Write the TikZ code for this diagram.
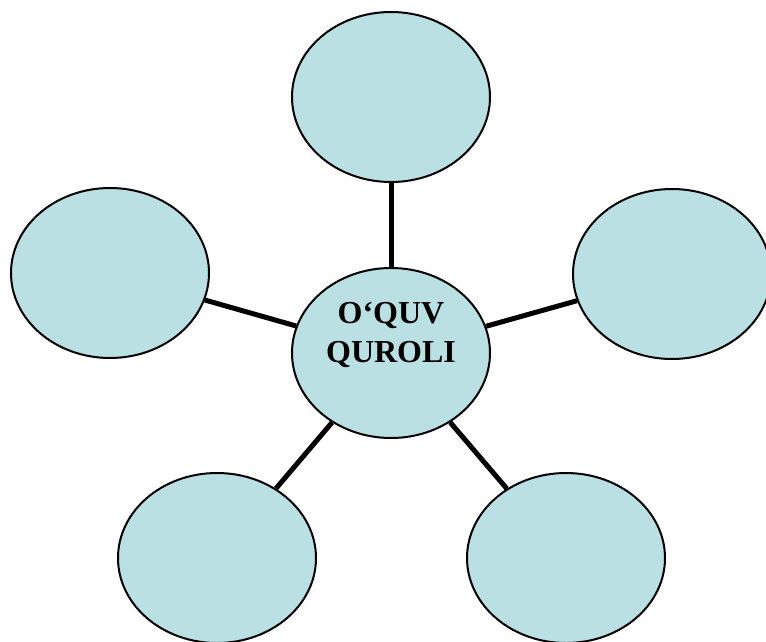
\documentclass[tikz,border=0pt]{standalone}
\usepackage{fontspec}
\setmainfont{Liberation Serif}
\usetikzlibrary{shapes.geometric}
\definecolor{bubblefill}{RGB}{187,224,227}
\tikzset{
  bubble/.style={ellipse,draw=black,line width=2pt,fill=bubblefill,
    minimum width=198pt,minimum height=170pt,inner sep=0pt},
  spoke/.style={line width=5pt}
}
\begin{document}
\begin{tikzpicture}[x=1pt,y=-1pt]
    \useasboundingbox (0,0) rectangle (766,642);
    \node[bubble] (hub) at (391,353) {};
    \foreach \p [count=\j] in {{391,97},{672,274},{566,558},{217,558},{110,273}}
      \node[bubble] (leaf\j) at (\p) {};
    \foreach \j in {1,...,5}
      \draw[spoke] (hub) -- (leaf\j);
    \node[font=\fontsize{32}{39}\selectfont\bfseries,align=center,inner sep=0pt]
      (title) at (391,335) {O‘QUV\\QUROLI};
  \end{tikzpicture}
\end{document}
